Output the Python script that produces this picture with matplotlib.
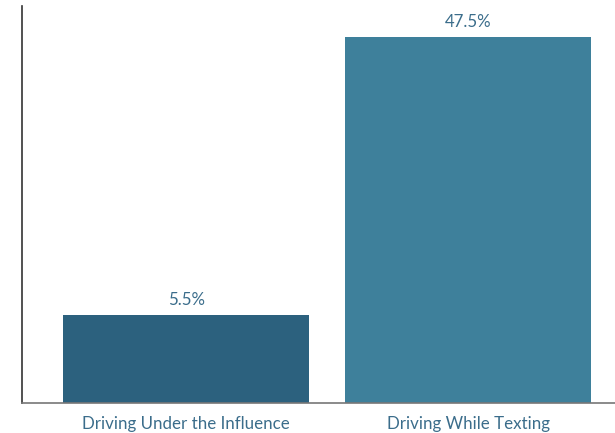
import matplotlib
matplotlib.use("Agg")
import matplotlib.pyplot as plt

categories = ["Driving Under the Influence", "Driving While Texting"]
values = [5.5, 47.5]
value_labels = ["5.5%", "47.5%"]

bar_colors = ["#2c617e", "#3e809b"]
text_color = "#3b6d8b"
baseline = -7.8

plt.rcParams['font.family'] = ['Lato', 'DejaVu Sans']

fig = plt.figure(figsize=(6.15, 4.33), dpi=100)
ax = fig.add_axes([22/615, 30/433, 1 - 22/615, (403-6)/433])

x = list(range(len(categories)))
heights = [v - baseline for v in values]
bars = ax.bar(x, heights, bottom=baseline, width=0.872, color=bar_colors)
for xi, v, lab in zip(x, values, value_labels):
    ax.annotate(lab, (xi, v), xytext=(0, 5), textcoords="offset points",
                ha="center", va="bottom", color=text_color, fontsize=12.2)

ax.set_xlim(-0.582, 1.521)
ax.set_ylim(baseline, 52.2)
ax.set_xticks(x)
ax.set_xticklabels(categories, color=text_color, fontsize=12.2)
ax.tick_params(axis="x", length=0, pad=9)
ax.set_yticks([])
for s in ["top", "right"]:
    ax.spines[s].set_visible(False)
ax.spines["left"].set_color("#333333")
ax.spines["bottom"].set_color("#777777")
ax.spines["left"].set_linewidth(1.2)
ax.spines["bottom"].set_linewidth(1.2)

fig.savefig("out.png", dpi=100)
